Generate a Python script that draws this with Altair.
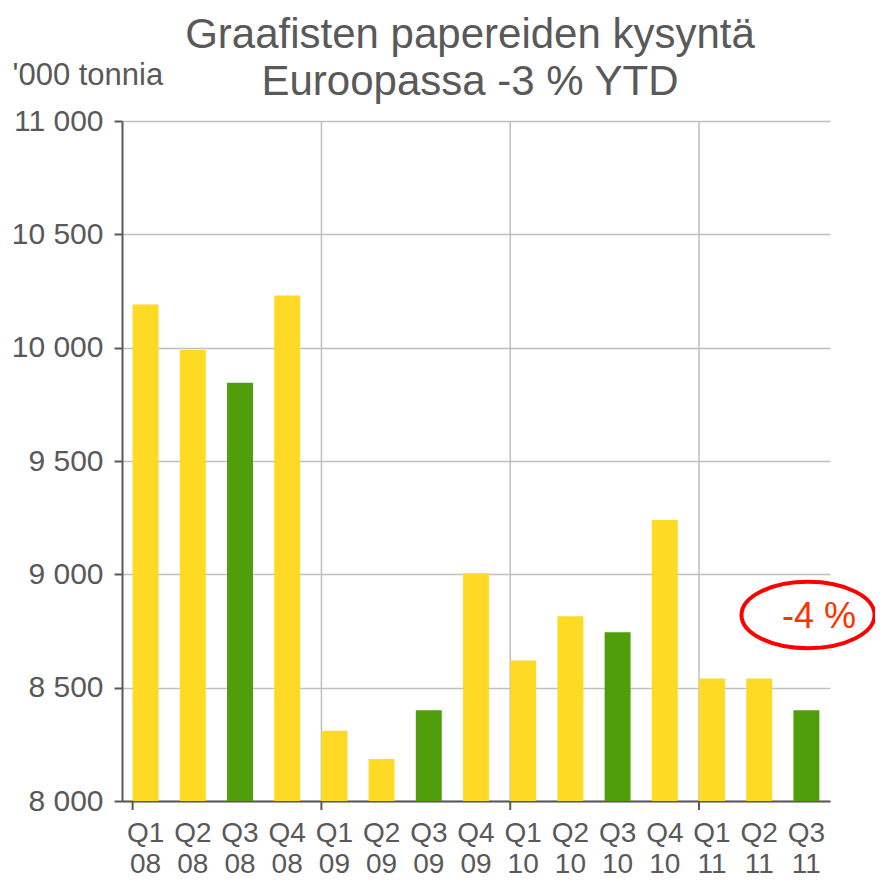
import altair as alt
import pandas as pd

quarters = ["Q1", "Q2", "Q3", "Q4", "Q1", "Q2", "Q3", "Q4", "Q1", "Q2", "Q3", "Q4", "Q1", "Q2", "Q3"]
years = ["08", "08", "08", "08", "09", "09", "09", "09", "10", "10", "10", "10", "11", "11", "11"]
demand = [10190, 9990, 9845, 10230, 8310, 8185, 8400, 9005, 8620, 8815, 8745, 9240, 8540, 8540, 8400]
highlight = ["no", "no", "yes", "no", "no", "no", "yes", "no", "no", "no", "yes", "no", "no", "no", "yes"]
y_ticks = [8000, 8500, 9000, 9500, 10000, 10500, 11000]

labels = [f"{q} {y}" for q, y in zip(quarters, years)]
df = pd.DataFrame({"period": labels, "demand": demand, "hl": highlight})
year_starts = pd.DataFrame({"period": [l for l, q in zip(labels, quarters) if q == "Q1"]})
inner_starts = year_starts.iloc[1:]

FONT = "Liberation Sans"
GREY = "#595959"

x_enc = alt.X(
    "period:N",
    sort=labels,
    scale=alt.Scale(paddingInner=0.45, paddingOuter=0.225),
    axis=alt.Axis(
        title=None,
        labelAngle=0,
        labelAlign="center",
        labelExpr="split(datum.label, ' ')",
        labelLineHeight=31,
        labelFontSize=28,
        labelColor=GREY,
        labelFont=FONT,
        labelPadding=32,
        ticks=False,
        grid=False,
        domainColor=GREY,
        domainWidth=2,
    ),
)

y_scale = alt.Scale(domain=[y_ticks[0], y_ticks[-1]], nice=False, zero=False)

bars = alt.Chart(df).mark_bar().encode(
    x=x_enc,
    y=alt.Y(
        "demand:Q",
        scale=y_scale,
        axis=alt.Axis(
            values=y_ticks,
            labelExpr="replace(format(datum.value, ','), ',', ' ')",
            labelFontSize=30,
            labelColor=GREY,
            labelFont=FONT,
            labelPadding=11,
            tickSize=8,
            tickColor=GREY,
            tickWidth=2,
            domainColor=GREY,
            domainWidth=2,
            gridColor="#BFBFBF",
            gridWidth=1.5,
            title="'000 tonnia",
            titleAngle=0,
            titleAlign="left",
            titleBaseline="alphabetic",
            titleX=-110,
            titleY=-37,
            titleFontSize=31,
            titleFontWeight="normal",
            titleColor=GREY,
            titleFont=FONT,
        ),
    ),
    y2=alt.datum(y_ticks[0]),
    color=alt.Color(
        "hl:N",
        scale=alt.Scale(domain=["no", "yes"], range=["#FFDA24", "#509E0B"]),
        legend=None,
    ),
)

vgrid = alt.Chart(inner_starts).mark_rule(color="#BFBFBF", strokeWidth=1.5).encode(
    x=alt.X("period:N", sort=labels, bandPosition=0),
    y=alt.value(0),
    y2=alt.value(680),
)

xticks = alt.Chart(year_starts).mark_rule(color=GREY, strokeWidth=2).encode(
    x=alt.X("period:N", sort=labels, bandPosition=0),
    y=alt.value(680),
    y2=alt.value(689),
)

ellipse_df = pd.DataFrame({"note": ["-4 %"]})
ellipse = alt.Chart(ellipse_df).mark_point(
    shape="M-1,0A1,0.5 0 1,1 1,0A1,0.5 0 1,1 -1,0Z",
    filled=False,
    stroke="#FF0000",
    strokeWidth=4,
    opacity=1,
).encode(x=alt.value(686), y=alt.value(494), size=alt.value(17700))

note = alt.Chart(ellipse_df).mark_text(
    font=FONT, fontSize=36, color="#FF3300", align="center", baseline="alphabetic"
).encode(text="note:N", x=alt.value(697), y=alt.value(507))

chart = (
    alt.layer(vgrid, bars, xticks, ellipse, note)
    .properties(
        width=708,
        height=680,
        title=alt.TitleParams(
            text=["Graafisten papereiden kysyntä", "Euroopassa -3 % YTD"],
            fontSize=42,
            font=FONT,
            fontWeight="normal",
            color=GREY,
            anchor="middle",
            lineHeight=47,
            offset=22,
            dy=67,
            dx=-6,
        ),
        autosize=alt.AutoSizeParams(type="none"),
        padding={"left": 114, "top": 113, "right": 45, "bottom": 79},
    )
    .configure_view(stroke=None)
)

chart.save("out.html", embed_options={"renderer": "svg", "actions": False})
